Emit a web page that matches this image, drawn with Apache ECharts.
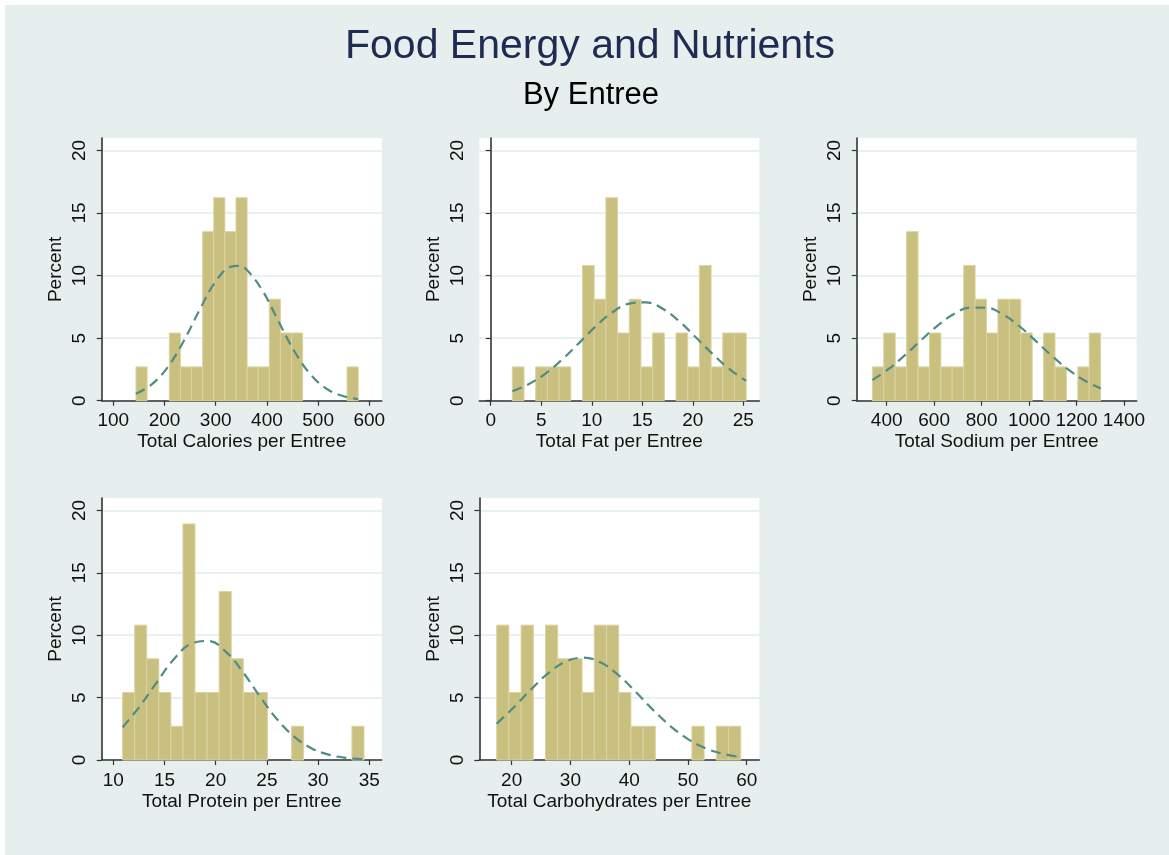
<!DOCTYPE html>
<html><head><meta charset="utf-8">
<script src="https://cdn.jsdelivr.net/npm/echarts@6/dist/echarts.min.js"></script>
<style>html,body{margin:0;padding:0;background:#fff}#c{width:1169px;height:855px}</style>
</head><body><div id="c"></div>
<script>
// ---------------- data ----------------
const chartTitle = 'Food Energy and Nutrients';
const chartSubtitle = 'By Entree';
const yAxisTitle = 'Percent';
const percentTicks = [0, 5, 10, 15, 20];

const caloriesTitle = 'Total Calories per Entree';
const caloriesTicks = [100, 200, 300, 400, 500, 600];
const caloriesBinStart = 144.3;
const caloriesBinWidth = 21.7;
const caloriesPercent = [2.7, 0, 0, 5.41, 2.7, 2.7, 13.51, 16.22, 13.51, 16.22, 2.7, 2.7, 8.11, 5.41, 5.41, 0, 0, 0, 0, 2.7];
const caloriesCurveX = [144, 175, 206, 237, 268, 299, 330, 345, 361, 392, 423, 454, 485, 516, 547, 578];
const caloriesCurveY = [0.55, 1.30, 2.67, 4.73, 7.22, 9.48, 10.72, 10.78, 10.44, 8.75, 6.32, 3.93, 2.11, 0.97, 0.39, 0.13];

const fatTitle = 'Total Fat per Entree';
const fatTicks = [0, 5, 10, 15, 20, 25];
const fatBinStart = 2.14;
const fatBinWidth = 1.157;
const fatPercent = [2.7, 0, 2.7, 2.7, 2.7, 0, 10.81, 8.11, 16.22, 5.41, 8.11, 2.7, 5.41, 0, 5.41, 2.7, 10.81, 2.7, 5.41, 5.41];
const fatCurveX = [2.14, 3.79, 5.45, 7.10, 8.75, 10.41, 12.06, 13.71, 15.36, 17.02, 18.67, 20.32, 21.97, 23.63, 25.28];
const fatCurveY = [0.75, 1.34, 2.19, 3.31, 4.62, 5.96, 7.08, 7.76, 7.86, 7.35, 6.34, 5.05, 3.72, 2.52, 1.58];

const sodiumTitle = 'Total Sodium per Entree';
const sodiumTicks = [400, 600, 800, 1000, 1200, 1400];
const sodiumBinStart = 339.6;
const sodiumBinWidth = 48.1;
const sodiumPercent = [2.7, 5.41, 2.7, 13.51, 2.7, 5.41, 2.7, 2.7, 10.81, 8.11, 5.41, 8.11, 8.11, 5.41, 0, 5.41, 2.7, 0, 2.7, 5.41];
const sodiumCurveX = [339.6, 408.3, 477.0, 545.8, 614.5, 683.2, 751.9, 820.7, 889.4, 958.1, 1026.8, 1095.5, 1164.3, 1233.0, 1301.7];
const sodiumCurveY = [1.65, 2.54, 3.64, 4.85, 6.01, 6.93, 7.44, 7.43, 6.90, 5.97, 4.80, 3.59, 2.50, 1.62, 0.98];

const proteinTitle = 'Total Protein per Entree';
const proteinTicks = [10, 15, 20, 25, 30, 35];
const proteinBinStart = 10.91;
const proteinBinWidth = 1.1785;
const proteinPercent = [5.41, 10.81, 8.11, 5.41, 2.7, 18.92, 5.41, 5.41, 13.51, 8.11, 5.41, 5.41, 0, 0, 2.7, 0, 0, 0, 0, 2.7];
const proteinCurveX = [10.91, 12.59, 14.28, 15.96, 17.64, 19.33, 21.01, 22.69, 24.38, 26.06, 27.75, 29.43, 31.11, 32.80, 34.48];
const proteinCurveY = [2.63, 4.30, 6.27, 8.12, 9.34, 9.54, 8.67, 7.01, 5.02, 3.20, 1.81, 0.91, 0.41, 0.16, 0.06];

const carbsTitle = 'Total Carbohydrates per Entree';
const carbsTicks = [20, 30, 40, 50, 60];
const carbsBinStart = 17.45;
const carbsBinWidth = 2.0765;
const carbsPercent = [10.81, 5.41, 10.81, 0, 10.81, 8.11, 8.11, 5.41, 10.81, 10.81, 5.41, 2.7, 2.7, 0, 0, 0, 2.7, 0, 2.7, 2.7];
const carbsCurveX = [17.45, 20.42, 23.38, 26.35, 29.32, 32.28, 35.25, 38.21, 41.18, 44.15, 47.11, 50.08, 53.05, 56.01, 58.98];
const carbsCurveY = [2.91, 4.25, 5.70, 7.01, 7.92, 8.20, 7.79, 6.79, 5.43, 3.98, 2.68, 1.65, 0.93, 0.49, 0.23];

// ---------------- layout / style ----------------
const FONT = '"Liberation Sans", Arial, Helvetica, sans-serif';
const BAR_FILL = '#c9c07f';
const BAR_EDGE = '#dad3a2';
const CURVE = '#4f8c84';
const AXIS = '#333333';
const GRIDLINE = '#e2ebef';

const panels = [
  {title: caloriesTitle, ticks: caloriesTicks, start: caloriesBinStart, width: caloriesBinWidth, pct: caloriesPercent, cx: caloriesCurveX, cy: caloriesCurveY,
   box: {left: 101.7, top: 138, width: 280, height: 262.7}, xmin: 77.3, xmax: 624.2},
  {title: fatTitle, ticks: fatTicks, start: fatBinStart, width: fatBinWidth, pct: fatPercent, cx: fatCurveX, cy: fatCurveY,
   box: {left: 479.3, top: 138, width: 280, height: 262.7}, xmin: -1.13, xmax: 26.58},
  {title: sodiumTitle, ticks: sodiumTicks, start: sodiumBinStart, width: sodiumBinWidth, pct: sodiumPercent, cx: sodiumCurveX, cy: sodiumCurveY,
   box: {left: 856.7, top: 138, width: 280, height: 262.7}, xmin: 273.6, xmax: 1453.5},
  {title: proteinTitle, ticks: proteinTicks, start: proteinBinStart, width: proteinBinWidth, pct: proteinPercent, cx: proteinCurveX, cy: proteinCurveY,
   box: {left: 101.7, top: 498, width: 280, height: 262}, xmin: 8.87, xmax: 36.21},
  {title: carbsTitle, ticks: carbsTicks, start: carbsBinStart, width: carbsBinWidth, pct: carbsPercent, cx: carbsCurveX, cy: carbsCurveY,
   box: {left: 479.3, top: 498, width: 280, height: 262}, xmin: 14.49, xmax: 62.14}
];

const plain = v => String(v);
const grid = [], xAxis = [], yAxis = [], series = [];
panels.forEach((p, i) => {
  grid.push(Object.assign({show: true, backgroundColor: '#ffffff', borderWidth: 0}, p.box));
  xAxis.push({
    type: 'value', gridIndex: i, min: p.xmin, max: p.xmax,
    name: p.title, nameLocation: 'middle', nameGap: 32,
    nameTextStyle: {fontSize: 19, color: '#111', fontFamily: FONT},
    axisLine: {show: true, onZero: false, lineStyle: {color: AXIS, width: 1.6}},
    axisTick: {show: true, length: 5, lineStyle: {color: AXIS, width: 1.2}, customValues: p.ticks},
    axisLabel: {show: true, margin: 11, fontSize: 19, color: '#111', fontFamily: FONT, customValues: p.ticks, formatter: plain},
    splitLine: {show: false}
  });
  yAxis.push({
    type: 'value', gridIndex: i, min: 0, max: 21,
    name: yAxisTitle, nameLocation: 'middle', nameGap: 36,
    nameTextStyle: {fontSize: 19, color: '#111', fontFamily: FONT},
    axisLine: {show: true, lineStyle: {color: AXIS, width: 1.6}},
    axisTick: {show: true, length: 5, lineStyle: {color: AXIS, width: 1.2}, customValues: percentTicks},
    axisLabel: {show: true, rotate: 90, margin: 12, fontSize: 19, color: '#111', fontFamily: FONT, customValues: percentTicks, formatter: plain},
    splitLine: {show: true, lineStyle: {color: GRIDLINE, width: 1.5}}
  });
  const bins = [];
  p.pct.forEach((v, k) => {
    if (v > 0) bins.push([p.start + k * p.width, p.start + (k + 1) * p.width, v]);
  });
  series.push({
    type: 'custom', xAxisIndex: i, yAxisIndex: i, data: bins, z: 2,
    encode: {x: [0, 1], y: 2},
    renderItem: function (params, api) {
      const a = api.coord([api.value(0), 0]);
      const b = api.coord([api.value(1), api.value(2)]);
      return {type: 'rect', shape: {x: a[0], y: b[1], width: b[0] - a[0], height: a[1] - b[1]},
              style: {fill: BAR_FILL, stroke: BAR_EDGE, lineWidth: 1}};
    }
  });
  series.push({
    type: 'line', xAxisIndex: i, yAxisIndex: i, z: 3, smooth: 0.4, showSymbol: false, silent: true,
    data: p.cx.map((x, k) => [x, p.cy[k]]),
    lineStyle: {color: CURVE, width: 2.2, type: [10, 6]}
  });
});

const option = {
  animation: false,
  backgroundColor: '#ffffff',
  graphic: [{type: 'rect', z: -100, shape: {x: 5, y: 5, width: 1164, height: 850}, style: {fill: '#e6efed'}}],
  title: [
    {text: chartTitle, left: 590, top: 26, textAlign: 'center', padding: 0,
     textStyle: {fontSize: 41, fontWeight: 'normal', color: '#1f2b52', fontFamily: FONT}},
    {text: chartSubtitle, left: 591, top: 80, textAlign: 'center', padding: 0,
     textStyle: {fontSize: 31, fontWeight: 'normal', color: '#000', fontFamily: FONT}}
  ],
  grid, xAxis, yAxis, series
};
const chart = echarts.init(document.getElementById('c'), null, {renderer: 'canvas'});
chart.setOption(option);
</script></body></html>
